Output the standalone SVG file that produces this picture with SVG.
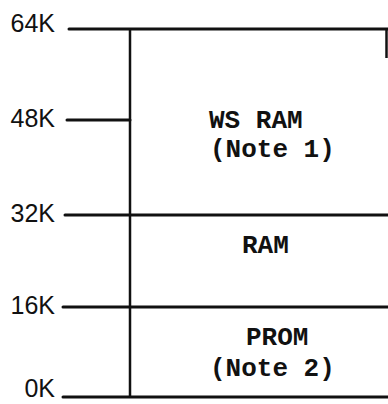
<svg xmlns="http://www.w3.org/2000/svg" width="388" height="404" viewBox="0 0 388 404">
<style>
.lbl{font-family:"Liberation Sans","DejaVu Sans",sans-serif;font-size:25px;fill:#111;text-anchor:end}
.box{font-family:"Liberation Mono","DejaVu Sans Mono",monospace;font-size:26px;font-weight:bold;fill:#111}
.ln{stroke:#111;stroke-width:3;stroke-linecap:round;fill:none}
.vl{stroke:#111;stroke-width:2.5;fill:none}
</style>
<rect width="388" height="404" fill="#fff"/>
<g id="connectors">
<line class="ln" x1="69" y1="29" x2="390" y2="29"/>
<line class="ln" x1="67" y1="120" x2="130" y2="120"/>
<line class="ln" x1="65" y1="215" x2="390" y2="215"/>
<line class="ln" x1="63" y1="307" x2="390" y2="307"/>
<line class="ln" x1="63" y1="397" x2="390" y2="397"/>
<line class="vl" x1="130" y1="29" x2="130" y2="397"/>
<line class="vl" x1="386.5" y1="28" x2="386.5" y2="58" stroke-width="2"/>
</g>
<g id="axis-labels">
<text class="lbl" x="55" y="32">64K</text>
<text class="lbl" x="55" y="127">48K</text>
<text class="lbl" x="55" y="222">32K</text>
<text class="lbl" x="55" y="314">16K</text>
<text class="lbl" x="55" y="397">0K</text>
</g>
<g id="ws-ram">
<text class="box" x="209" y="128">WS RAM</text>
<text class="box" x="210" y="157">(Note 1)</text>
</g>
<g id="ram">
<text class="box" x="242" y="253">RAM</text>
</g>
<g id="prom">
<text class="box" x="246" y="345">PROM</text>
<text class="box" x="210" y="376">(Note 2)</text>
</g>
</svg>
